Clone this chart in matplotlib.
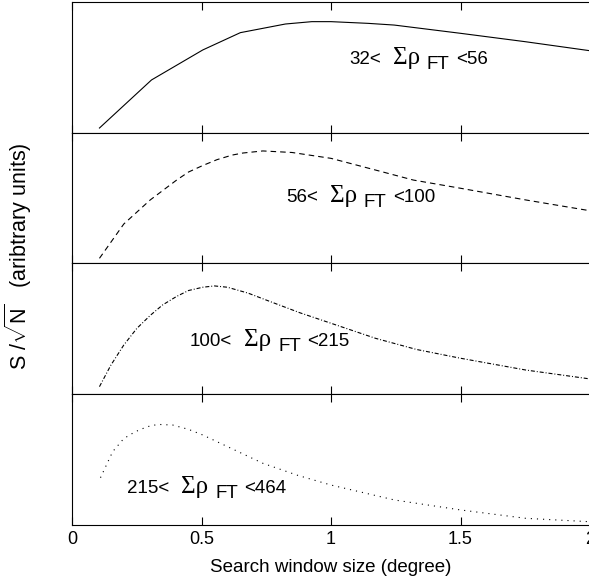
import matplotlib.pyplot as plt

plt.rcParams["font.family"] = ["Liberation Sans", "DejaVu Sans"]
plt.rcParams["mathtext.fontset"] = "custom"
plt.rcParams["mathtext.rm"] = "Liberation Sans"
plt.rcParams["mathtext.it"] = "Liberation Sans:italic"
plt.rcParams["lines.scale_dashes"] = False

# curves: x = window size (deg), y = S/sqrt(N) scaled to its panel
x_p1 = [0.106, 0.307, 0.505, 0.65, 0.824, 0.926, 1.0, 1.143, 1.244, 1.5, 1.75, 2.0]
y_p1 = [0.038, 0.405, 0.634, 0.766, 0.832, 0.850, 0.850, 0.837, 0.824, 0.761, 0.697, 0.628]

x_p2 = [0.106, 0.2, 0.302, 0.404, 0.45, 0.505, 0.56, 0.618, 0.66, 0.737, 0.85, 1.0,
        1.172, 1.318, 1.5, 1.752, 2.0]
y_p2 = [0.036, 0.30, 0.485, 0.638, 0.70, 0.75, 0.795, 0.83, 0.846, 0.862, 0.85, 0.805,
        0.715, 0.638, 0.575, 0.485, 0.402]

x_p3 = [0.106, 0.15, 0.2, 0.25, 0.302, 0.35, 0.404, 0.45, 0.505, 0.55, 0.6, 0.68,
        0.766, 0.88, 1.0, 1.172, 1.33, 1.5, 1.752, 2.0]
y_p3 = [0.056, 0.22, 0.374, 0.50, 0.60, 0.68, 0.745, 0.79, 0.815, 0.825, 0.815, 0.77,
        0.705, 0.62, 0.540, 0.425, 0.34, 0.273, 0.183, 0.115]

x_p4 = [0.11, 0.157, 0.2, 0.244, 0.29, 0.331, 0.389, 0.45, 0.505, 0.62, 0.737, 0.87,
        1.0, 1.245, 1.5, 1.752, 2.0]
y_p4 = [0.361, 0.56, 0.66, 0.712, 0.75, 0.768, 0.763, 0.73, 0.687, 0.58, 0.471, 0.38,
        0.305, 0.191, 0.115, 0.051, 0.025]

curves_x = [x_p1, x_p2, x_p3, x_p4]
curves_y = [y_p1, y_p2, y_p3, y_p4]
bin_lo = ["32", "56", "100", "215"]
bin_hi = ["56", "100", "215", "464"]
label_pos = [(1.239, 0.527), (0.996, 0.472), (0.664, 0.369), (0.421, 0.244)]
styles = ["-", (0, (4.0, 2.9)), (0, (2.9, 1.4, 0.7, 1.4)), (0, (0.8, 3.6))]

xticks = [0, 0.5, 1, 1.5, 2]
xticklabels = ["0", "0.5", "1", "1.5", "2"]

fig = plt.figure(figsize=(5.89, 5.81), dpi=100)

left = 72 / 589
width = (590 - 72) / 589
edges = [2, 133, 263, 394, 525]  # panel borders in pixels from the top

axes = []
for i in range(4):
    bottom = 1 - edges[i + 1] / 581
    height = (edges[i + 1] - edges[i]) / 581
    ax = fig.add_axes([left, bottom, width, height])
    ax.plot(curves_x[i], curves_y[i], color="black", lw=0.8, linestyle=styles[i])
    ax.set_xlim(0, 2)
    ax.set_ylim(0, 1)
    ax.set_xticks(xticks)
    ax.set_yticks([])
    ax.tick_params(axis="x", direction="in", top=True, bottom=True,
                   length=5.5, width=0.8, labelsize=13, pad=4,
                   labelbottom=(i == 3))
    if i == 3:
        ax.set_xticklabels(xticklabels)
    ax.spines["right"].set_visible(False)
    for s in ["left", "top", "bottom"]:
        ax.spines[s].set_linewidth(0.8)

    # the "lo< Σρ_FT <hi" range label
    xa, ya = label_pos[i]
    ax.annotate(bin_lo[i] + "<", (xa, ya), xytext=(-8.5, 0),
                textcoords="offset points", ha="right", va="baseline", fontsize=13.5)
    ax.annotate("Σρ", (xa, ya), xytext=(0, 0), textcoords="offset points",
                ha="left", va="baseline", fontsize=18, family="Liberation Serif")
    ax.annotate("FT", (xa, ya), xytext=(24.5, -3.6), textcoords="offset points",
                ha="left", va="baseline", fontsize=13.5)
    ax.annotate("<" + bin_hi[i], (xa, ya), xytext=(45.5, 0), textcoords="offset points",
                ha="left", va="baseline", fontsize=13.5)
    axes.append(ax)

axes[-1].set_xlabel("Search window size (degree)", fontsize=13.5, labelpad=8)

fig.text(18.5 / 589, 1 - 256 / 581, r"S /$\sqrt{\mathrm{N}}$   (aribtrary units)",
         rotation=90, ha="center", va="center", fontsize=15.5)

fig.savefig("out.png", dpi=100)
